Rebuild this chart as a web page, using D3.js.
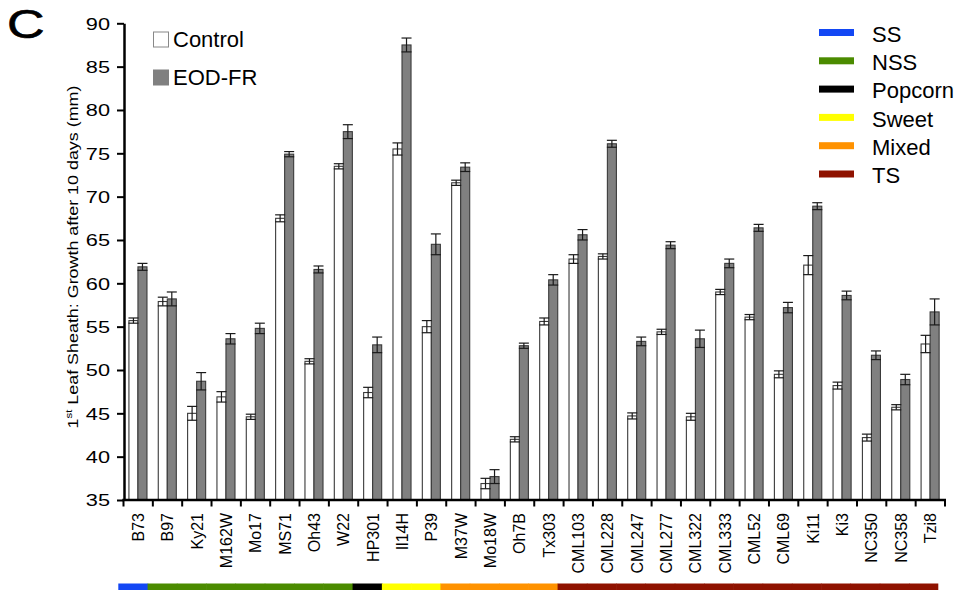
<!DOCTYPE html>
<html>
<head>
<meta charset="utf-8">
<script src="https://cdn.jsdelivr.net/npm/d3@7"></script>
<style>
  body { margin: 0; background: #fff; }
  svg { display: block; }
  text { font-family: "Liberation Sans", Arial, Helvetica, sans-serif; fill: #000; }
</style>
</head>
<body>
<svg id="chart" width="960" height="590"></svg>
<script>
// Maize inbred lines, grouped by subpopulation
const lines = ["B73","B97","Ky21","M162W","Mo17","MS71","Oh43","W22","HP301","Il14H","P39",
  "M37W","Mo18W","Oh7B","Tx303","CML103","CML228","CML247","CML277","CML322","CML333",
  "CML52","CML69","Ki11","Ki3","NC350","NC358","Tzi8"];
const lineGroup = ["SS","NSS","NSS","NSS","NSS","NSS","NSS","NSS","Popcorn","Sweet","Sweet",
  "Mixed","Mixed","Mixed","Mixed","TS","TS","TS","TS","TS","TS",
  "TS","TS","TS","TS","TS","TS","TS"];

// First leaf sheath growth after 10 days (mm), mean and error
const control    = [55.7, 57.9, 45.0, 46.9, 44.6, 67.5, 51.0, 73.5, 47.4, 75.5, 55.0,
  71.6, 36.9, 42.0, 55.6, 62.8, 63.1, 44.7, 54.4, 44.6, 59.0,
  56.1, 49.5, 62.1, 48.2, 42.2, 45.7, 53.0];
const controlErr = [0.3, 0.5, 0.8, 0.6, 0.3, 0.4, 0.3, 0.3, 0.6, 0.7, 0.7,
  0.3, 0.6, 0.3, 0.4, 0.5, 0.3, 0.35, 0.3, 0.4, 0.3,
  0.3, 0.4, 1.1, 0.4, 0.4, 0.3, 1.0];
const eodFR      = [61.9, 58.2, 48.7, 53.6, 54.8, 74.9, 61.6, 77.5, 52.9, 87.5, 64.5,
  73.4, 37.7, 52.8, 60.4, 65.6, 76.1, 53.3, 64.4, 53.6, 62.3,
  66.4, 57.2, 68.9, 58.6, 51.7, 48.9, 56.7];
const eodFRErr   = [0.4, 0.8, 1.0, 0.6, 0.6, 0.3, 0.4, 0.8, 0.9, 0.8, 1.2,
  0.5, 0.8, 0.3, 0.6, 0.6, 0.4, 0.5, 0.4, 1.0, 0.5,
  0.4, 0.6, 0.4, 0.5, 0.5, 0.6, 1.5];

const treatments = ["Control", "EOD-FR"];
const treatmentFill = ["#ffffff", "#808080"];

const groups = ["SS", "NSS", "Popcorn", "Sweet", "Mixed", "TS"];
const groupColors = ["#1347f4", "#4b8b00", "#000000", "#ffff00", "#ff9200", "#8f1200"];

const yTicks = [35, 40, 45, 50, 55, 60, 65, 70, 75, 80, 85, 90];

const svg = d3.select("#chart");
const colorOf = d3.scaleOrdinal().domain(groups).range(groupColors);

const x = d3.scaleBand().domain(lines).range([123.5, 945]);
const xSub = d3.scaleBand().domain(treatments)
  .range([x.bandwidth() * 0.185, x.bandwidth() * 0.8]);
const y = d3.scaleLinear().domain([35, 90]).range([500, 23.3]);

const rows = lines.map((name, i) => ({
  name,
  values: [
    { t: "Control", v: control[i], e: controlErr[i], fill: treatmentFill[0] },
    { t: "EOD-FR", v: eodFR[i], e: eodFRErr[i], fill: treatmentFill[1] }
  ]
}));

// Bars
const g = svg.append("g");
const cat = g.selectAll("g.cat").data(rows).join("g")
  .attr("class", "cat")
  .attr("transform", d => `translate(${x(d.name)},0)`);

cat.selectAll("rect").data(d => d.values).join("rect")
  .attr("x", d => xSub(d.t))
  .attr("width", xSub.bandwidth())
  .attr("y", d => y(d.v))
  .attr("height", d => y(35) - y(d.v))
  .attr("fill", d => d.fill)
  .attr("stroke", "#3a3a3a")
  .attr("stroke-width", 1.1);

// Error bars
const err = cat.selectAll("g.err").data(d => d.values).join("g").attr("class", "err");
const cx = d => xSub(d.t) + xSub.bandwidth() / 2;
const capW = xSub.bandwidth() / 2 + 0.5;
err.append("line")
  .attr("x1", cx).attr("x2", cx)
  .attr("y1", d => y(d.v + d.e)).attr("y2", d => y(d.v - d.e));
err.append("line")
  .attr("x1", d => cx(d) - capW).attr("x2", d => cx(d) + capW)
  .attr("y1", d => y(d.v + d.e)).attr("y2", d => y(d.v + d.e));
err.append("line")
  .attr("x1", d => cx(d) - capW).attr("x2", d => cx(d) + capW)
  .attr("y1", d => y(d.v - d.e)).attr("y2", d => y(d.v - d.e));
err.selectAll("line").attr("stroke", "#1a1a1a").attr("stroke-width", 1.2);

// Y axis
const yAxis = svg.append("g").attr("transform", "translate(124,0)")
  .call(d3.axisLeft(y).tickValues(yTicks).tickSize(7).tickSizeOuter(0).tickPadding(0));
yAxis.select(".domain").attr("stroke", "#000").attr("stroke-width", 2.5);
yAxis.selectAll(".tick line").attr("stroke", "#000").attr("stroke-width", 2);
yAxis.selectAll(".tick text")
  .attr("font-size", 16)
  .attr("font-family", "Liberation Sans, Arial, sans-serif")
  .attr("x", 0).attr("dy", "0.36em")
  .attr("text-anchor", "end")
  .attr("transform", "translate(-14,0) scale(1.36,1)");

// X axis
const xAxis = svg.append("g").attr("transform", "translate(0,500)")
  .call(d3.axisBottom(x).tickSize(0).tickSizeOuter(0).tickPadding(0));
xAxis.select(".domain").attr("stroke", "#000").attr("stroke-width", 2.5)
  .attr("d", "M122.3,0H946");
xAxis.selectAll(".tick line").remove();
xAxis.selectAll(".tick text")
  .attr("font-size", 16)
  .attr("font-family", "Liberation Sans, Arial, sans-serif")
  .attr("text-anchor", "end")
  .attr("transform", "rotate(-90)")
  .attr("x", -13).attr("y", 0).attr("dy", "0.36em");
// tick marks sit on band boundaries
const bounds = lines.map(l => x(l)).concat([x.range()[1]]);
svg.append("g").selectAll("line").data(bounds).join("line")
  .attr("x1", d => d).attr("x2", d => d)
  .attr("y1", 500).attr("y2", 506.5)
  .attr("stroke", "#000").attr("stroke-width", 2);

// Y axis title with superscript, stretched along its length
const title = svg.append("text")
  .attr("font-size", 15)
  .attr("text-anchor", "middle");
title.append("tspan").text("1");
title.append("tspan").text("st").attr("font-size", 9.5).attr("dy", -6);
title.append("tspan").text(" Leaf Sheath: Growth after 10 days (mm)").attr("dy", 6);
const tLen = title.node().getComputedTextLength();
title.attr("transform", `translate(77.5,257) rotate(-90) scale(${343 / tLen},1)`);

// Panel letter
svg.append("text").text("C")
  .attr("font-size", 40)
  .attr("stroke", "#000").attr("stroke-width", 0.6)
  .attr("transform", "translate(7,37.5) scale(1.3,1)");

// Treatment legend
const tLeg = svg.append("g");
treatments.forEach((t, i) => {
  const yy = 32 + i * 38;
  tLeg.append("rect").attr("x", 153.5).attr("y", yy).attr("width", 15).attr("height", 15)
    .attr("fill", treatmentFill[i]).attr("stroke", i === 0 ? "#888" : "#808080").attr("stroke-width", 1);
  tLeg.append("text").text(t).attr("x", 173).attr("y", yy + 15).attr("font-size", 22);
});

// Subpopulation legend
const gLeg = svg.append("g");
groups.forEach((gname, i) => {
  const cy = 32.5 + i * 28.3;
  gLeg.append("rect").attr("x", 819).attr("y", cy - 3.5).attr("width", 35).attr("height", 7)
    .attr("fill", groupColors[i]);
  gLeg.append("text").text(gname).attr("x", 872).attr("y", cy + 9.3).attr("font-size", 22);
});

// Subpopulation strip under the line names
const xs = d3.scaleBand().domain(lines).range([118.3, 938.3]);
svg.append("g").selectAll("rect").data(lines).join("rect")
  .attr("x", d => xs(d))
  .attr("width", (d, i) => xs.bandwidth() + (i < lines.length - 1 ? 0.6 : 0))
  .attr("y", 583.5).attr("height", 7)
  .attr("fill", (d, i) => colorOf(lineGroup[i]));
</script>
</body>
</html>
